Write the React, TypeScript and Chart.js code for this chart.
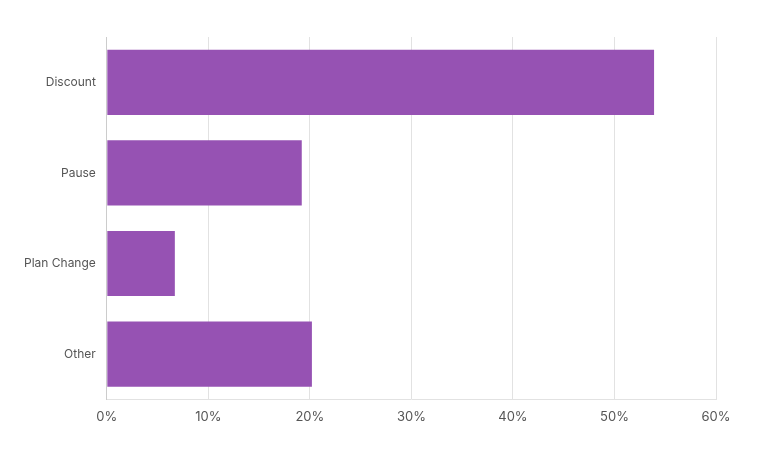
import React, { useEffect, useRef } from "react";
import { Chart, registerables } from "chart.js";

Chart.register(...registerables);

const categories = ["Discount", "Pause", "Plan Change", "Other"];
const values = [53.9, 19.2, 6.7, 20.2];
const xTicks = [0, 10, 20, 30, 40, 50, 60];

export default function App() {
  const ref = useRef<HTMLCanvasElement | null>(null);
  useEffect(() => {
    if (!ref.current) return;
    const chart = new Chart(ref.current, {
      type: "bar",
      data: {
        labels: categories,
        datasets: [
          {
            data: values,
            backgroundColor: "#9652b3",
            borderWidth: 0,
          },
        ],
      },
      options: {
        indexAxis: "y",
        animation: false,
        responsive: true,
        maintainAspectRatio: false,
        layout: { padding: { top: 29, right: 37, left: 5, bottom: 14 } },
        plugins: { legend: { display: false }, tooltip: { enabled: false } },
        scales: {
          x: {
            min: 0,
            max: 60,
            afterBuildTicks: (axis: any) => {
              axis.ticks = xTicks.map((v) => ({ value: v }));
            },
            ticks: {
              callback: (v: any) => v + "%",
              color: "#555555",
              font: { family: "Inter", size: 13 },
              padding: 10,
            },
            grid: { color: "#e2e2e2", drawTicks: false },
            border: { color: "#e2e2e2" },
          },
          y: {
            ticks: {
              color: "#555555",
              font: { family: "Inter", size: 12 },
              padding: 11,
            },
            grid: { display: false, drawTicks: false },
            border: { color: "#cccccc" },
          },
        },
      },
    });
    return () => chart.destroy();
  }, []);
  return (
    <div style={{ width: 745, height: 441, position: "relative" }}>
      <canvas ref={ref} />
    </div>
  );
}
